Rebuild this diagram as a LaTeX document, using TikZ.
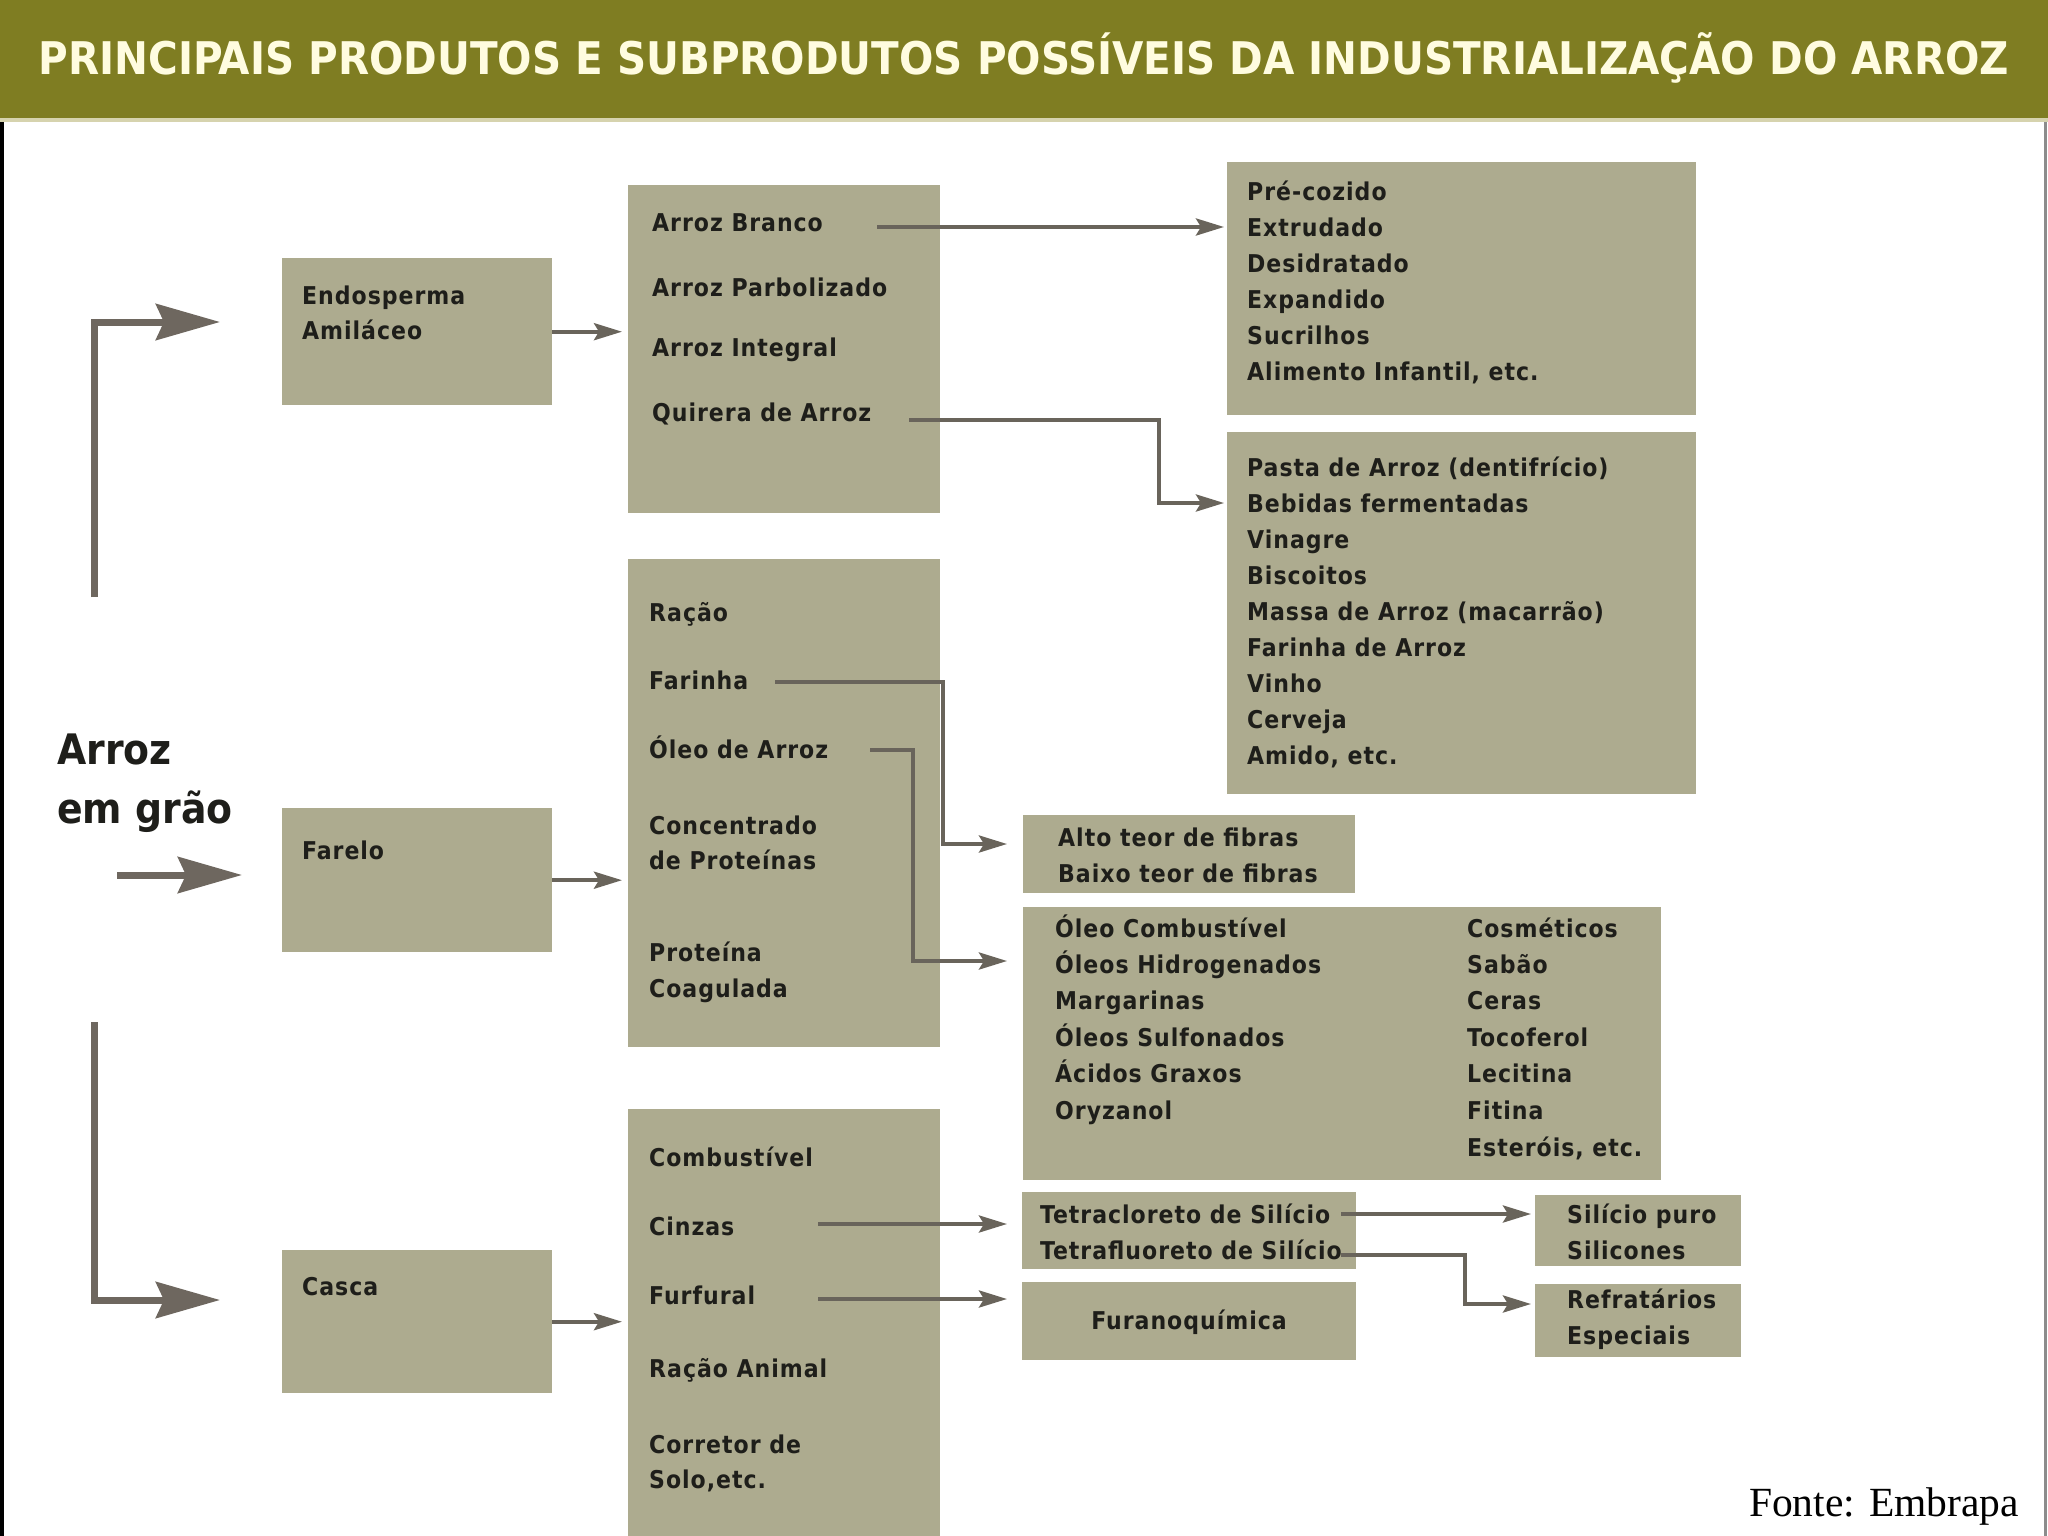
\documentclass[tikz,border=0pt]{standalone}
\usepackage{fontspec}
\usepackage{graphicx}
\usetikzlibrary{arrows.meta}
\newfontfamily\condbold{DejaVu Sans Condensed Bold}
\newfontfamily\bodyfont{DejaVu Sans Condensed Bold}[LetterSpace=4]
\newfontfamily\fontefont{Liberation Serif}
\definecolor{hdrcol}{HTML}{7F7D22}
\definecolor{hdrtxt}{HTML}{FFFCE0}
\definecolor{hdrline}{HTML}{D6D3AE}
\definecolor{boxcol}{HTML}{ADAB8F}
\definecolor{txtcol}{HTML}{1E1E1A}
\definecolor{arrcol}{HTML}{69645B}
\definecolor{bigcol}{HTML}{6E675F}
\tikzset{
  box/.style={fill=boxcol, draw=none, inner sep=0pt, anchor=north west},
  txt/.style={font=\bodyfont\fontsize{24.5}{28}\selectfont, text=txtcol, inner sep=0pt, anchor=base west},
  conn/.style={draw=arrcol, line width=4pt, -{Stealth[length=28pt,width=17pt,inset=5pt]}},
  bigarrow/.style={draw=bigcol, line width=7pt, -{Stealth[length=64pt,width=36pt,inset=8pt]}}
}
\begin{document}
\begin{tikzpicture}[x=1pt,y=-1pt]
\useasboundingbox (0,0) rectangle (2048,1536);
\fill[white] (0,0) rectangle (2048,1536);
% header
\fill[hdrcol] (0,0) rectangle (2048,118);
\fill[hdrline] (0,118) rectangle (2048,122);
\fill[black] (0,122) rectangle (4,1536);
\fill[black!45] (2044,122) rectangle (2047,1536);
\node[font=\condbold\fontsize{45}{50}\selectfont, text=hdrtxt, inner sep=0pt, anchor=base] (title) at (1024,75) {PRINCIPAIS PRODUTOS E SUBPRODUTOS POSSÍVEIS DA INDUSTRIALIZAÇÃO DO ARROZ};

% boxes
\node[box, minimum width=270pt, minimum height=147pt] (endo) at (282,258) {};
\node[box, minimum width=270pt, minimum height=144pt] (farelo) at (282,808) {};
\node[box, minimum width=270pt, minimum height=143pt] (casca) at (282,1250) {};
\node[box, minimum width=312pt, minimum height=328pt] (arroz) at (628,185) {};
\node[box, minimum width=312pt, minimum height=488pt] (racao) at (628,559) {};
\node[box, minimum width=312pt, minimum height=427pt] (comb) at (628,1109) {};
\node[box, minimum width=469pt, minimum height=253pt] (pre) at (1227,162) {};
\node[box, minimum width=469pt, minimum height=362pt] (pasta) at (1227,432) {};
\node[box, minimum width=332pt, minimum height=78pt] (alto) at (1023,815) {};
\node[box, minimum width=638pt, minimum height=273pt] (oleo) at (1023,907) {};
\node[box, minimum width=334pt, minimum height=77pt] (tetra) at (1022,1192) {};
\node[box, minimum width=334pt, minimum height=78pt] (furano) at (1022,1282) {};
\node[box, minimum width=206pt, minimum height=71pt] (silicio) at (1535,1195) {};
\node[box, minimum width=206pt, minimum height=73pt] (refrat) at (1535,1284) {};

% left label
\node[font=\condbold\fontsize{42}{46}\selectfont, text=txtcol, inner sep=0pt, anchor=base west] (lab1) at (57,764) {Arroz};
\node[font=\condbold\fontsize{42}{46}\selectfont, text=txtcol, inner sep=0pt, anchor=base west] (lab2) at (57,823) {em grão};

% texts left boxes
\node[txt] (e1) at (302,304) {Endosperma};
\node[txt] (e2) at (302,339) {Amiláceo};
\node[txt] (f1) at (302,859) {Farelo};
\node[txt] (k1) at (302,1295) {Casca};

% arroz box
\node[txt] (a1) at (652,231) {Arroz Branco};
\node[txt] (a2) at (652,296) {Arroz Parbolizado};
\node[txt] (a3) at (652,356) {Arroz Integral};
\node[txt] (a4) at (652,421) {Quirera de Arroz};

% racao box
\node[txt] (r1) at (649,621) {Ração};
\node[txt] (r2) at (649,689) {Farinha};
\node[txt] (r3) at (649,758) {Óleo de Arroz};
\node[txt] (r4) at (649,834) {Concentrado};
\node[txt] (r5) at (649,869) {de Proteínas};
\node[txt] (r6) at (649,961) {Proteína};
\node[txt] (r7) at (649,997) {Coagulada};

% comb box
\node[txt] (c1) at (649,1166) {Combustível};
\node[txt] (c2) at (649,1235) {Cinzas};
\node[txt] (c3) at (649,1304) {Furfural};
\node[txt] (c4) at (649,1377) {Ração Animal};
\node[txt] (c5) at (649,1453) {Corretor de};
\node[txt] (c6) at (649,1488) {Solo,etc.};

% pre box
\node[txt] (p1) at (1247,200) {Pré-cozido};
\node[txt] (p2) at (1247,236) {Extrudado};
\node[txt] (p3) at (1247,272) {Desidratado};
\node[txt] (p4) at (1247,308) {Expandido};
\node[txt] (p5) at (1247,344) {Sucrilhos};
\node[txt] (p6) at (1247,380) {Alimento Infantil, etc.};

% pasta box
\node[txt] (q1) at (1247,476) {Pasta de Arroz (dentifrício)};
\node[txt] (q2) at (1247,512) {Bebidas fermentadas};
\node[txt] (q3) at (1247,548) {Vinagre};
\node[txt] (q4) at (1247,584) {Biscoitos};
\node[txt] (q5) at (1247,620) {Massa de Arroz (macarrão)};
\node[txt] (q6) at (1247,656) {Farinha de Arroz};
\node[txt] (q7) at (1247,692) {Vinho};
\node[txt] (q8) at (1247,728) {Cerveja};
\node[txt] (q9) at (1247,764) {Amido, etc.};

% alto box
\node[txt] (h1) at (1058,846) {Alto teor de fibras};
\node[txt] (h2) at (1058,882) {Baixo teor de fibras};

% oleo box
\node[txt] (o1) at (1055,937) {Óleo Combustível};
\node[txt] (o2) at (1055,973) {Óleos Hidrogenados};
\node[txt] (o3) at (1055,1009) {Margarinas};
\node[txt] (o4) at (1055,1046) {Óleos Sulfonados};
\node[txt] (o5) at (1055,1082) {Ácidos Graxos};
\node[txt] (o6) at (1055,1119) {Oryzanol};
\node[txt] (o7) at (1467,937) {Cosméticos};
\node[txt] (o8) at (1467,973) {Sabão};
\node[txt] (o9) at (1467,1009) {Ceras};
\node[txt] (o10) at (1467,1046) {Tocoferol};
\node[txt] (o11) at (1467,1082) {Lecitina};
\node[txt] (o12) at (1467,1119) {Fitina};
\node[txt] (o13) at (1467,1156) {Esteróis, etc.};

% tetra, furano, silicio, refrat
\node[txt] (t1) at (1040,1223) {Tetracloreto de Silício};
\node[txt] (t2) at (1040,1259) {Tetrafluoreto de Silício};
\node[txt, anchor=base] (u1) at (1189,1329) {Furanoquímica};
\node[txt] (s1) at (1567,1223) {Silício puro};
\node[txt] (s2) at (1567,1259) {Silicones};
\node[txt] (w1) at (1567,1308) {Refratários};
\node[txt] (w2) at (1567,1344) {Especiais};

% source
\node[font=\fontefont\fontsize{41.5}{44}\selectfont, text=black, inner sep=0pt, anchor=base east] (fonte) at (2019,1516) {Fonte: Embrapa};

% big arrows
\coordinate (topstart) at (94,597);
\coordinate (toptip) at (220,322);
\coordinate (midstart) at (117,875);
\coordinate (midtip) at (242,875);
\coordinate (botstart) at (94,1022);
\coordinate (bottip) at (220,1300);
\draw[bigarrow] (topstart) |- (toptip);
\draw[bigarrow] (midstart) -- (midtip);
\draw[bigarrow] (botstart) |- (bottip);

% short arrows into middle boxes
\draw[conn, shorten >=6pt] (endo.east) -- (endo.east -| arroz.west);
\draw[conn, shorten >=6pt] (farelo.east) -- (farelo.east -| racao.west);
\draw[conn, shorten >=6pt] (casca.east) -- (casca.east -| comb.west);

% connectors
\coordinate (sbranco) at (877,227);
\coordinate (ebranco) at (1224,227);
\draw[conn] (sbranco) -- (ebranco);
\coordinate (squir) at (909,420);
\coordinate (kquir) at (1159,420);
\coordinate (equir) at (1224,503);
\draw[conn] (squir) -- (kquir) |- (equir);
\coordinate (sfar) at (775,682);
\coordinate (kfar) at (943,682);
\coordinate (efar) at (1007,844);
\draw[conn] (sfar) -- (kfar) |- (efar);
\coordinate (soleo) at (870,750);
\coordinate (koleo) at (913,750);
\coordinate (eoleo) at (1007,961);
\draw[conn] (soleo) -- (koleo) |- (eoleo);
\coordinate (scin) at (818,1224);
\coordinate (ecin) at (1007,1224);
\draw[conn] (scin) -- (ecin);
\coordinate (sfur) at (818,1299);
\coordinate (efur) at (1007,1299);
\draw[conn] (sfur) -- (efur);
\coordinate (stc) at (1341,1214);
\coordinate (etc) at (1531,1214);
\draw[conn] (stc) -- (etc);
\coordinate (stf) at (1341,1255);
\coordinate (ktf) at (1465,1255);
\coordinate (etf) at (1531,1304);
\draw[conn] (stf) -- (ktf) |- (etf);
\end{tikzpicture}
\end{document}
